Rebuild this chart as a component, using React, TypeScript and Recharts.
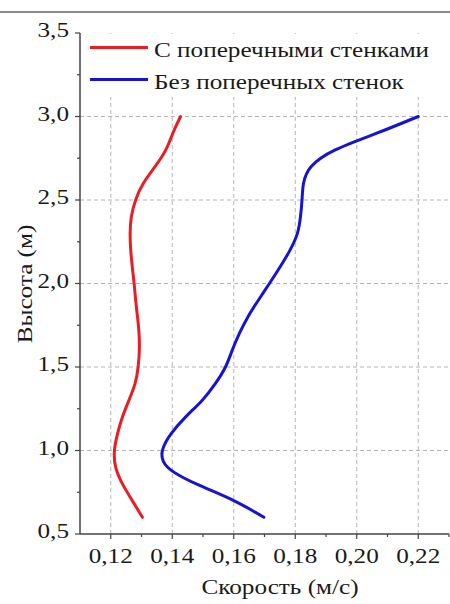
import React from 'react';
import { LineChart, Line, XAxis, YAxis, ReferenceLine, Legend } from 'recharts';

const seriesNames = ['С поперечными стенками', 'Без поперечных стенок'];
const seriesColors = ['#ec1c24', '#1414d2'];

const redHeights = [0.6, 0.7, 0.8, 0.9, 1.0, 1.1, 1.2, 1.3, 1.4, 1.5, 1.6, 1.7, 1.8, 1.9, 2.0, 2.1, 2.2, 2.3, 2.4, 2.5, 2.6, 2.7, 2.8, 2.9, 3.0];
const redSpeeds = [0.1303, 0.127, 0.1238, 0.1216, 0.1212, 0.1222, 0.1238, 0.1259, 0.1279, 0.1289, 0.1293, 0.1292, 0.1287, 0.1281, 0.1276, 0.127, 0.1265, 0.1263, 0.1267, 0.1281, 0.1306, 0.1344, 0.1379, 0.1402, 0.1427];

const blueHeights = [0.6, 0.7, 0.8, 0.9, 1.0, 1.1, 1.2, 1.3, 1.4, 1.5, 1.6, 1.7, 1.8, 1.9, 2.0, 2.1, 2.2, 2.3, 2.4, 2.5, 2.6, 2.7, 2.8, 2.9, 3.0];
const blueSpeeds = [0.1698, 0.160, 0.1478, 0.1385, 0.1368, 0.1396, 0.1443, 0.1497, 0.154, 0.1573, 0.1595, 0.1618, 0.1646, 0.168, 0.1716, 0.1751, 0.1783, 0.1807, 0.1817, 0.1822, 0.1827, 0.1852, 0.193, 0.2065, 0.220];

const xMajorTicks = [0.12, 0.14, 0.16, 0.18, 0.2, 0.22];
const xMinorTicks = [0.13, 0.15, 0.17, 0.19, 0.21, 0.23];
const yMajorTicks = [0.5, 1.0, 1.5, 2.0, 2.5, 3.0, 3.5];
const yMinorTicks = [0.75, 1.25, 1.75, 2.25, 2.75, 3.25];
const xGridValues = [0.12, 0.14, 0.16, 0.18, 0.2, 0.22];
const yGridValues = [1.0, 1.5, 2.0, 2.5, 3.0];

const xTitle = 'Скорость (м/с)';
const yTitle = 'Высота (м)';

const redData = redHeights.map((h, i) => ({ height: h, speed: redSpeeds[i] }));
const blueData = blueHeights.map((h, i) => ({ height: h, speed: blueSpeeds[i] }));

const FONT = '"Liberation Serif", "Times New Roman", serif';
const AXIS = '#444';
const TEXT = '#1a1a1a';
const SX = 1.2;

const XTick = (props: any) => {
  const { x, y, payload } = props;
  const v = payload.value;
  const major = xMajorTicks.includes(v);
  if (!major) {
    return <line x1={x} x2={x} y1={y} y2={y + 3} stroke={AXIS} strokeWidth={1.2} />;
  }
  return (
    <g>
      <line x1={x} x2={x} y1={y} y2={y + 5} stroke={AXIS} strokeWidth={1.2} />
      <text
        transform={`translate(${x},${y + 29}) scale(${SX},1)`}
        textAnchor="middle"
        fontSize={21}
        fontFamily={FONT}
        fill={TEXT}
      >
        {v.toFixed(2).replace('.', ',')}
      </text>
    </g>
  );
};

const YTick = (props: any) => {
  const { x, y, payload } = props;
  const v = payload.value;
  const major = yMajorTicks.includes(v);
  if (!major) {
    return <line x1={x} x2={x - 3} y1={y} y2={y} stroke={AXIS} strokeWidth={1.2} />;
  }
  return (
    <g>
      <line x1={x} x2={x - 5} y1={y} y2={y} stroke={AXIS} strokeWidth={1.2} />
      <text
        transform={`translate(${x - 11},${y + 4}) scale(${SX},1)`}
        textAnchor="end"
        fontSize={21}
        fontFamily={FONT}
        fill={TEXT}
      >
        {v.toFixed(1).replace('.', ',')}
      </text>
    </g>
  );
};

const LegendContent = (props: any) => {
  const payload = [...(props.payload || [])].sort(
    (a: any, b: any) => seriesNames.indexOf(a.value) - seriesNames.indexOf(b.value)
  );
  return (
    <svg width={366} height={63} style={{ display: 'block' }}>
      {payload.map((p: any, i: number) => {
        const cy = 13.5 + i * 32;
        return (
          <g key={i}>
            <line x1={6} x2={64} y1={cy} y2={cy} stroke={p.color} strokeWidth={3} />
            <text
              transform={`translate(70,${cy + 9}) scale(${SX},1)`}
              fontSize={21}
              fontFamily={FONT}
              fill={TEXT}
            >
              {p.value}
            </text>
          </g>
        );
      })}
    </svg>
  );
};

export default function App() {
  const xTicks = [...xMajorTicks, ...xMinorTicks].sort((a, b) => a - b);
  const yTicks = [...yMajorTicks, ...yMinorTicks].sort((a, b) => a - b);
  return (
    <div style={{ position: 'absolute', left: 0, top: 0, width: 450, height: 604, background: '#fff', overflow: 'hidden' }}>
      <div style={{ position: 'absolute', left: 0, top: 11, width: 450, height: 2, background: '#8a8a8a' }} />
      <LineChart width={450} height={604} margin={{ top: 33, right: 1, bottom: 0, left: 0 }}>
        {xGridValues.map((v) => (
          <ReferenceLine key={'gx' + v} x={v} stroke="#b4b4b4" strokeWidth={1} strokeDasharray="4 3" />
        ))}
        {yGridValues.map((v) => (
          <ReferenceLine key={'gy' + v} y={v} stroke="#b4b4b4" strokeWidth={1} strokeDasharray="4 3" />
        ))}
        <XAxis
          type="number"
          dataKey="speed"
          domain={[0.11, 0.23]}
          ticks={xTicks}
          interval={0}
          tickSize={0}
          tickMargin={0}
          tickLine={false}
          tick={<XTick />}
          height={70}
          axisLine={{ stroke: AXIS, strokeWidth: 1.5 }}
          allowDataOverflow
        />
        <YAxis
          type="number"
          domain={[0.5, 3.5]}
          ticks={yTicks}
          interval={0}
          tickSize={0}
          tickMargin={0}
          tickLine={false}
          tick={<YTick />}
          width={80}
          axisLine={{ stroke: AXIS, strokeWidth: 1.5 }}
          allowDataOverflow
        />
        <Legend
          layout="horizontal"
          verticalAlign="middle"
          align="center"
          content={<LegendContent />}
          wrapperStyle={{ position: 'absolute', top: 34, left: 84, width: 366, height: 63, background: '#fff' }}
        />
        <Line
          data={redData}
          dataKey="height"
          name={seriesNames[0]}
          type="natural"
          stroke={seriesColors[0]}
          strokeWidth={3}
          dot={false}
          activeDot={false}
          isAnimationActive={false}
          strokeLinecap="round"
        />
        <Line
          data={blueData}
          dataKey="height"
          name={seriesNames[1]}
          type="natural"
          stroke={seriesColors[1]}
          strokeWidth={3}
          dot={false}
          activeDot={false}
          isAnimationActive={false}
          strokeLinecap="round"
        />
        <text
          transform={`translate(280,594) scale(${SX},1)`}
          textAnchor="middle"
          fontSize={21}
          fontFamily={FONT}
          fill={TEXT}
        >
          {xTitle}
        </text>
        <text
          transform={`translate(32,284) rotate(-90) scale(${SX},1)`}
          textAnchor="middle"
          fontSize={21}
          fontFamily={FONT}
          fill={TEXT}
        >
          {yTitle}
        </text>
      </LineChart>
    </div>
  );
}
